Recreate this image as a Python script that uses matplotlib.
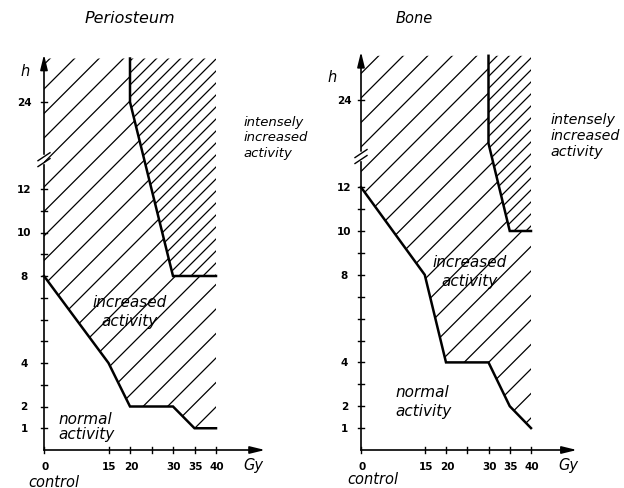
import matplotlib
matplotlib.use('Agg')
import matplotlib.pyplot as plt
from matplotlib.patches import Polygon

# ---------------- data ----------------
x_ticks = [0, 15, 20, 25, 30, 35, 40]
x_tick_labels = ['0', '15', '20', '', '30', '35', '40']
y_ticks_h = [1, 2, 3, 4, 5, 6, 7, 8, 9, 10, 11, 12, 24]
y_tick_labels = ['1', '2', '', '4', '', '', '', '8', '', '10', '', '12', '24']

# Periosteum: boundary normal / increased, boundary increased / intensely increased
peri_lower_gy = [0, 15, 20, 30, 35, 40]
peri_lower_h = [8, 4, 2, 2, 1, 1]
peri_upper_gy = [20, 30, 40]
peri_upper_h = [24, 8, 8]

# Bone
bone_lower_gy = [0, 15, 20, 30, 35, 40]
bone_lower_h = [12, 8, 4, 4, 2, 1]
bone_upper_gy = [30, 35, 40]
bone_upper_h = [18, 10, 10]

X_MAX = 40
Y_TOP = 18.0      # top of drawn area (axis position units)


def ypos(h):
    """broken hour axis: linear to 12 h, compressed above (24 h -> 16)"""
    return h if h <= 12 else 12 + (h - 12) / 3.0


FW, FH = 624, 489
fig = plt.figure(figsize=(FW / 100, FH / 100), dpi=100)

ITAL = dict(family='DejaVu Sans', style='oblique', color='black')
TICKF = dict(family='DejaVu Sans', weight='bold', color='black', fontsize=7.5)


def draw_panel(lay, title, lower_gy, lower_h, upper_gy, upper_h, texts):
    x0, sx, y0, sy, left = lay['x0'], lay['sx'], lay['y0'], lay['sy'], lay['left']
    ax = fig.add_axes([left / FW, 0, 312 / FW, 1])
    ax.set_xlim(-x0 / sx, (312 - x0) / sx)
    ax.set_ylim((y0 - FH) / sy, y0 / sy)
    ax.axis('off')
    px = lambda p: p / sx
    py = lambda p: p / sy

    low = [(g, ypos(h)) for g, h in zip(lower_gy, lower_h)]
    up = [(g, ypos(h)) for g, h in zip(upper_gy, upper_h)]
    up_full = [(upper_gy[0], Y_TOP)] + up

    # regions
    sparse_poly = [(0, Y_TOP)] + low + [(X_MAX, up[-1][1])] + up_full[::-1][:-1] + [up_full[0]]
    dense_poly = up_full + [(X_MAX, Y_TOP)]

    k = sx / sy  # slope for 45 deg lines in pixel space
    for poly, spacing in ((sparse_poly, 24.5), (dense_poly, 12.0)):
        patch = Polygon(poly, closed=True, facecolor='none', edgecolor='none',
                        transform=ax.transData)
        ax.add_patch(patch)
        c = -60.0
        while c < 40:
            ln, = ax.plot([-5, 45], [c - 5 * k, c + 45 * k], color='black', lw=0.9,
                          solid_capstyle='butt')
            ln.set_clip_path(patch)
            c += py(spacing)

    # boundaries
    ax.plot([p[0] for p in low], [p[1] for p in low], color='black', lw=1.8,
            solid_joinstyle='miter')
    ax.plot([p[0] for p in up_full], [p[1] for p in up_full], color='black', lw=1.8,
            solid_joinstyle='miter')

    # axes lines
    brk_hi, brk_lo = lay['brk']
    ax.plot([0, 0], [0, brk_lo], color='black', lw=1.2)
    ax.annotate('', xy=(0, Y_TOP + py(4)), xytext=(0, brk_hi),
                arrowprops=dict(arrowstyle='-|>,head_width=0.22,head_length=0.9',
                                lw=1.2, color='black', shrinkA=0, shrinkB=0,
                                mutation_scale=10))
    ax.annotate('', xy=(lay['xarrow'], 0), xytext=(0, 0),
                arrowprops=dict(arrowstyle='-|>,head_width=0.22,head_length=0.9',
                                lw=1.2, color='black', shrinkA=0, shrinkB=0,
                                mutation_scale=10))
    # break marks
    for yc in (brk_hi - py(2.5), brk_lo + py(2.5)):
        ax.plot([-px(6), px(6)], [yc - py(4), yc + py(4)], color='black', lw=1.0)

    # ticks
    for h, lab in zip(y_ticks_h, y_tick_labels):
        yp = ypos(h)
        ax.plot([-px(3), px(3)], [yp, yp], color='black', lw=1.0)
        if lab:
            ax.text(lay['ylab_x'], yp, lab, ha='center', va='center', **TICKF)
    for g, lab in zip(x_ticks, x_tick_labels):
        ax.plot([g, g], [-py(3), py(3)], color='black', lw=1.0)
        if lab:
            ax.text(g + px(1), -py(16), lab, ha='center', va='center', **TICKF)

    ax.text(lay['title_x'], py(y0 - 18), title, ha='center', va='center',
            fontsize=lay['title_fs'], **ITAL)
    ax.text(-px(lay['h_dx']), py(y0 - lay['h_y']), 'h', ha='center', va='center',
            fontsize=10.5, **ITAL)
    ax.text(lay['gy_x'], -py(15), 'Gy', ha='center', va='center', fontsize=10.5, **ITAL)
    ax.text(lay['ctrl_x'], -py(lay['ctrl_dy']), 'control', ha='center', va='center',
            fontsize=10.5, **ITAL)
    for (tx, ty, s, ha, ls, fs) in texts:
        ax.text(tx, ty, s, ha=ha, va='center', fontsize=fs, linespacing=ls,
                multialignment=ha, **ITAL)
    return ax


left_lay = dict(x0=44, sx=4.3, y0=451, sy=21.75, left=0, brk=(13.6, 13.1),
                xarrow=51.4, ylab_x=-4.6, title_x=20.0, title_fs=11.5, h_dx=19, h_y=72,
                gy_x=48.6, ctrl_x=2.3, ctrl_dy=32)
right_lay = dict(x0=49, sx=4.25, y0=451, sy=21.9, left=312, brk=(13.65, 13.15),
                 xarrow=50.8, ylab_x=-3.9, title_x=12.5, title_fs=10.5, h_dx=29, h_y=77,
                 gy_x=48.7, ctrl_x=2.8, ctrl_dy=29)

draw_panel(left_lay, 'Periosteum', peri_lower_gy, peri_lower_h, peri_upper_gy, peri_upper_h,
           [(46.3, 14.4, 'intensely\nincreased\nactivity', 'left', 1.26, 9.5),
            (19.8, 6.4, 'increased\nactivity', 'center', 1.36, 11),
            (3.3, 1.1, 'normal\nactivity', 'left', 0.97, 11)])
draw_panel(right_lay, 'Bone', bone_lower_gy, bone_lower_h, bone_upper_gy, bone_upper_h,
           [(44.5, 14.38, 'intensely\nincreased\nactivity', 'left', 1.15, 10.3),
            (25.6, 8.17, 'increased\nactivity', 'center', 1.36, 11),
            (8.2, 2.24, 'normal\nactivity', 'left', 1.36, 11)])

fig.savefig('out.png', dpi=100, facecolor='white')
